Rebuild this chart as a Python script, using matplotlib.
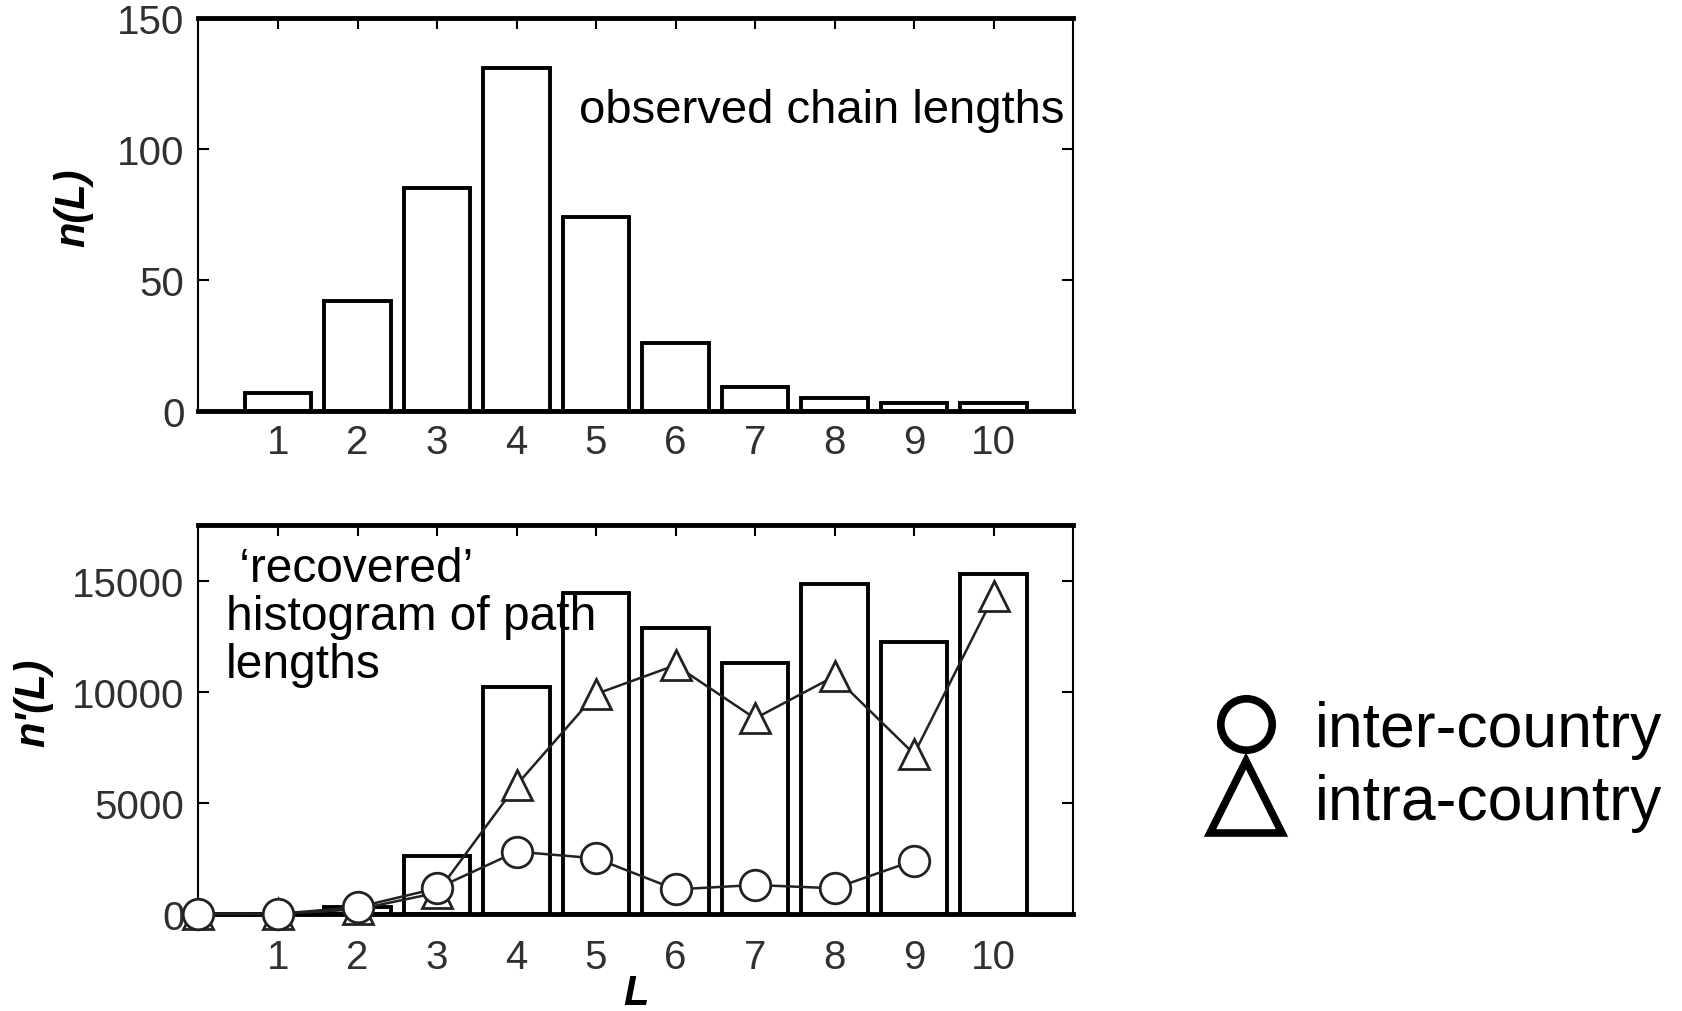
import numpy as np
import matplotlib.pyplot as plt
from matplotlib.lines import Line2D

plt.rcParams['font.family'] = ['Liberation Sans', 'DejaVu Sans']

# data
L = np.arange(1, 11)
n_obs = [7, 42, 85, 131, 74, 26, 9, 5, 3, 3]          # observed chain lengths
n_rec = [0, 300, 2600, 10200, 14450, 12850, 11300, 14850, 12250, 15300]  # recovered histogram

L_intra = np.arange(0, 11)
intra = [0, 0, 200, 950, 5800, 9900, 11200, 8800, 10700, 7200, 14300]
L_inter = np.arange(0, 10)
inter = [0, 0, 300, 1150, 2800, 2500, 1100, 1300, 1150, 2400]

fig = plt.figure(figsize=(16.82, 10.12), dpi=100)
ax1 = fig.add_axes([0.118, 0.593, 0.520, 0.388])
ax2 = fig.add_axes([0.118, 0.096, 0.520, 0.384])

tick_col = '#303030'

def style(ax, xpad):
    ax.set_xlim(0, 11)
    ax.set_xticks(L)
    for s in ['top', 'bottom']:
        ax.spines[s].set_linewidth(3.5)
    for s in ['left', 'right']:
        ax.spines[s].set_linewidth(1.5)
    ax.tick_params(axis='both', direction='in', length=8, width=1.5,
                   labelsize=29, labelcolor=tick_col)
    ax.tick_params(axis='x', top=True, bottom=False, pad=xpad)
    ax.tick_params(axis='y', left=True, right=True, pad=10)

lab = dict(fontsize=30, fontweight='bold', fontstyle='italic')

# top panel
ax1.bar(L, n_obs, width=0.84, color='white', edgecolor='black', linewidth=2.8)
ax1.set_ylim(0, 150)
ax1.set_yticks([0, 50, 100, 150])
style(ax1, 9)
ax1.set_ylabel('n(L)', **lab)
ax1.yaxis.set_label_coords(-0.12, 0.52)
ax1.text(4.79, 115, 'observed chain lengths', fontsize=34, va='center', ha='left')

# bottom panel
ax2.bar(L, n_rec, width=0.84, color='white', edgecolor='black', linewidth=2.8, zorder=1)
ax2.plot(L_intra, intra, color='#222222', lw=1.8, marker='^', ms=22, mfc='white',
         mec='#222222', mew=2, zorder=3, clip_on=False)
ax2.plot(L_inter, inter, color='#222222', lw=1.8, marker='o', ms=22, mfc='white',
         mec='#222222', mew=2, zorder=4, clip_on=False)
ax2.set_ylim(0, 17500)
ax2.set_yticks([0, 5000, 10000, 15000])
style(ax2, 17.5)
ax2.set_ylabel("n'(L)", **lab)
ax2.yaxis.set_label_coords(-0.166, 0.545)
ax2.set_xlabel('L', labelpad=-2, **lab)
ax2.text(0.34, 16550, ' \u2018recovered\u2019\nhistogram of path\nlengths', fontsize=34.5,
         va='top', ha='left', linespacing=1.08, zorder=5)

# legend on the right
handles = [
    Line2D([], [], ls='none', marker='o', ms=37, mfc='white', mec='black', mew=5.5),
    Line2D([], [], ls='none', marker='^', ms=52, mfc='white', mec='black', mew=5.5),
]
fig.legend(handles, ['inter-country', 'intra-country'], loc='center left',
           bbox_to_anchor=(0.722, 0.242), fontsize=45, frameon=False,
           handlelength=1.0, handletextpad=0.6, labelspacing=0.22,
           borderpad=0, borderaxespad=0)

fig.savefig('out.png', dpi=100)
